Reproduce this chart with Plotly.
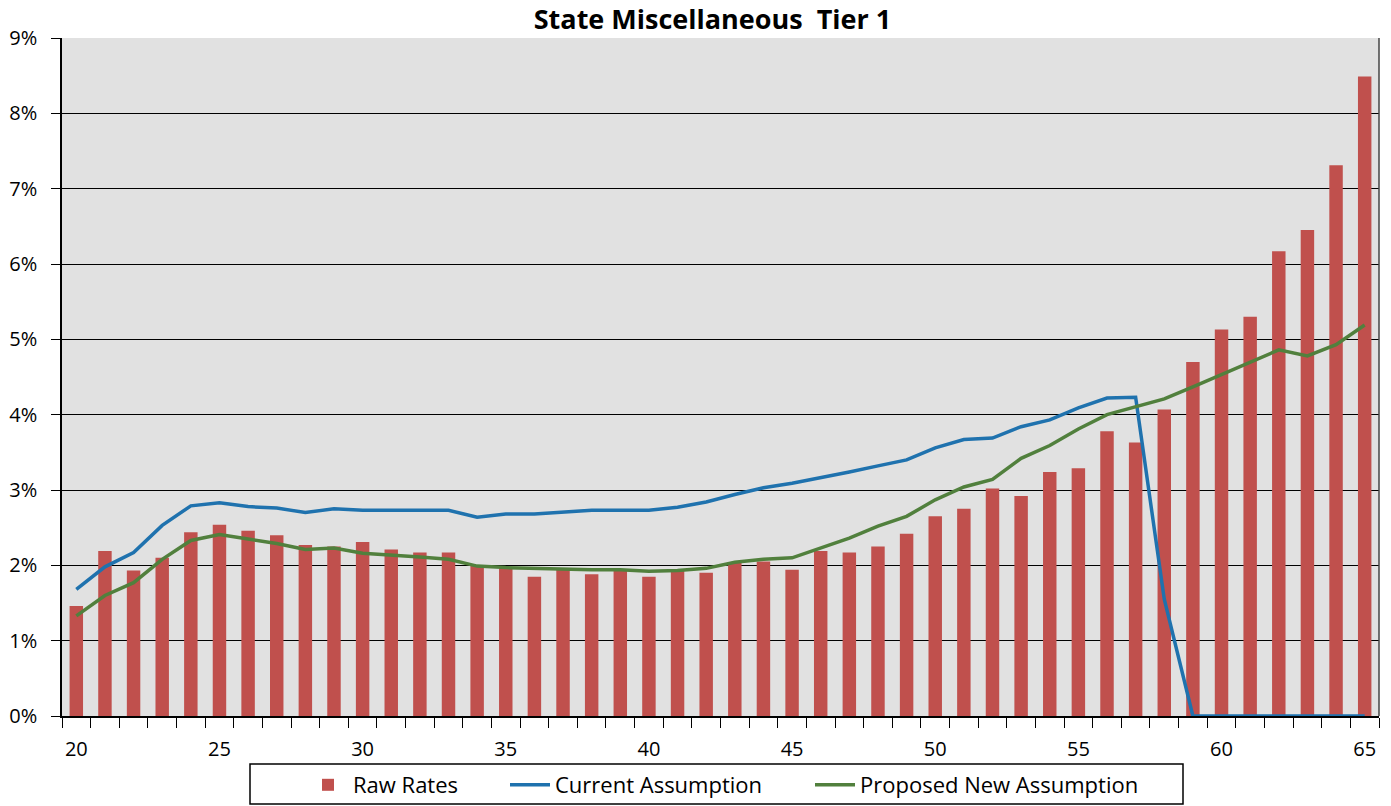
import plotly.graph_objects as go

ages = list(range(20, 66))
raw_rates = [1.46, 2.19, 1.93, 2.10, 2.44, 2.54, 2.46, 2.40, 2.27, 2.25,
             2.31, 2.21, 2.17, 2.17, 1.99, 1.97, 1.85, 1.94, 1.88, 1.94,
             1.85, 1.94, 1.90, 2.03, 2.05, 1.94, 2.19, 2.17, 2.25, 2.42,
             2.65, 2.75, 3.02, 2.92, 3.24, 3.29, 3.78, 3.63, 4.07, 4.70,
             5.13, 5.30, 6.17, 6.45, 7.31, 8.49]
current = [1.68, 1.98, 2.17, 2.53, 2.79, 2.83, 2.78, 2.76, 2.70, 2.75,
           2.73, 2.73, 2.73, 2.73, 2.64, 2.68, 2.68, 2.70, 2.73, 2.73,
           2.73, 2.77, 2.84, 2.94, 3.03, 3.09, 3.16, 3.24, 3.32, 3.40,
           3.56, 3.67, 3.69, 3.84, 3.93, 4.09, 4.22, 4.23, 1.55, 0.0,
           0.0, 0.0, 0.0, 0.0, 0.0, 0.0]
proposed = [1.33, 1.60, 1.77, 2.08, 2.33, 2.41, 2.35, 2.29, 2.21, 2.23,
            2.16, 2.14, 2.11, 2.08, 1.99, 1.97, 1.96, 1.94, 1.94, 1.94,
            1.92, 1.93, 1.96, 2.04, 2.08, 2.10, 2.23, 2.36, 2.52, 2.65,
            2.87, 3.04, 3.14, 3.42, 3.59, 3.81, 4.00, 4.10, 4.21, 4.37,
            4.53, 4.70, 4.86, 4.78, 4.93, 5.19]
x_tick_vals = [20, 25, 30, 35, 40, 45, 50, 55, 60, 65]
y_tick_vals = [0, 0.01, 0.02, 0.03, 0.04, 0.05, 0.06, 0.07, 0.08, 0.09]

FONT = "Open Sans"

# plot area in pixels (for converting legend placement to paper coords)
L, R, T, B = 62, 12, 38, 90
W, H = 1391, 806
PW, PH = W - L - R, H - T - B


def px_x(px):
    return (px - L) / PW


def px_y(py):
    return (H - B - py) / PH


fig = go.Figure()
fig.add_trace(go.Bar(x=ages, y=[v / 100 for v in raw_rates], name="Raw Rates",
                     marker=dict(color="#C0504D", line=dict(width=0)), width=0.47,
                     legend="legend"))
fig.add_trace(go.Scatter(x=ages, y=[v / 100 for v in current], name="Current Assumption",
                         mode="lines", line=dict(color="#1F72AE", width=3.5),
                         legend="legend2"))
fig.add_trace(go.Scatter(x=ages, y=[v / 100 for v in proposed], name="Proposed New Assumption",
                         mode="lines", line=dict(color="#51803D", width=3.5),
                         legend="legend3"))

leg_common = dict(orientation="h", yanchor="middle", y=px_y(785), xanchor="left",
                  borderwidth=0, bgcolor="rgba(0,0,0,0)",
                  font=dict(family=FONT, size=22, color="black"), itemwidth=40)

fig.update_layout(
    width=W, height=H,
    margin=dict(l=L, r=R, t=T, b=B, autoexpand=False),
    paper_bgcolor="white",
    plot_bgcolor="#E1E1E1",
    title=dict(text="<b>State Miscellaneous  Tier 1</b>", x=712.5 / W, xanchor="center",
               xref="container", y=1 - 20 / H, yanchor="middle",
               font=dict(family=FONT, size=27, color="black")),
    font=dict(family=FONT, size=20, color="black"),
    showlegend=True,
    legend=dict(leg_common, x=px_x(353 - 50)),
    legend2=dict(leg_common, x=px_x(555 - 50)),
    legend3=dict(leg_common, x=px_x(860 - 50)),
)
fig.update_xaxes(
    range=[19.5, 65.5], tickvals=x_tick_vals, ticktext=[str(v) for v in x_tick_vals],
    ticks="", showgrid=False, showline=True, linecolor="black", linewidth=1.5,
    tickfont=dict(family=FONT, size=20), ticklabelstandoff=14,
    minor=dict(ticks="outside", tick0=19.5, dtick=1, ticklen=10, tickcolor="black",
               tickwidth=1.3, showgrid=False),
    zeroline=False, automargin=False,
)
fig.update_yaxes(
    range=[0, 0.09], tickvals=y_tick_vals, tickformat=".0%",
    ticks="outside", ticklen=9, tickcolor="black", tickwidth=1.3,
    showgrid=True, gridcolor="black", gridwidth=1.3, ticklabelstandoff=10,
    showline=True, linecolor="black", linewidth=1.5, zeroline=False,
    tickfont=dict(family=FONT, size=20), automargin=False,
)
# right border of the plot area
fig.add_shape(type="line", xref="paper", yref="paper", x0=1, x1=1, y0=0, y1=1,
              line=dict(color="#444444", width=1.5))
# legend frame
fig.add_shape(type="rect", xref="paper", yref="paper",
              x0=px_x(250), x1=px_x(1183), y0=px_y(804), y1=px_y(764),
              line=dict(color="black", width=1.5), fillcolor="rgba(0,0,0,0)")

fig.write_html("out.html", config={"displayModeBar": False},
               post_script="document.body.style.margin='0';document.body.style.padding='0';")
